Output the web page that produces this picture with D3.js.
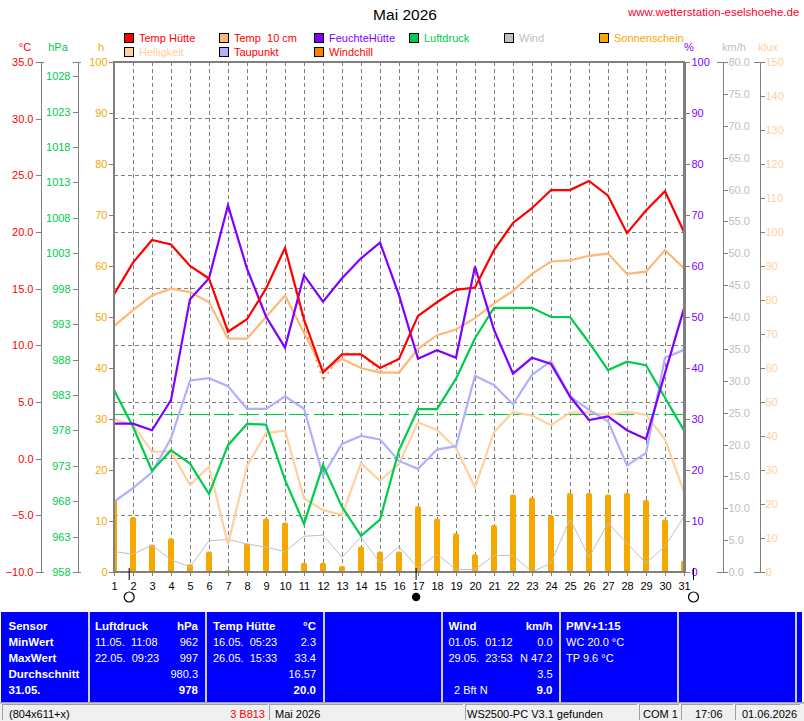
<!DOCTYPE html>
<html>
<head>
<meta charset="utf-8">
<title>Mai 2026</title>
<script src="https://cdn.jsdelivr.net/npm/d3@7"></script>
<style>
  html, body { margin: 0; padding: 0; background: #fff; overflow: hidden; }
  svg { display: block; }
  text { font-family: "Liberation Sans", Arial, sans-serif; font-size: 11px; white-space: pre; }
  .axis path, .axis line { stroke: #808080; shape-rendering: crispEdges; }
  .axis text { font-size: 11px; }
  .series { fill: none; stroke-linejoin: miter; }
</style>
</head>
<body>
<div id="chart"></div>
<script>
// daily values, May 2026
var days = d3.range(1, 32);
var tempHuette = [14.5,17.3,19.3,18.9,17.0,15.9,11.2,12.3,15.0,18.6,12.3,7.6,9.2,9.2,8.0,8.8,12.6,13.8,14.9,15.1,18.4,20.8,22.1,23.7,23.7,24.5,23.2,19.9,21.9,23.6,20.0];
var temp10cm = [11.7,13.1,14.4,15.0,14.7,13.8,10.6,10.6,12.5,14.4,11.1,7.8,8.8,8.0,7.6,7.6,9.7,10.9,11.4,12.4,13.7,14.8,16.3,17.4,17.5,17.9,18.1,16.3,16.5,18.4,16.8];
var taupunkt = [-3.8,-2.6,-1.2,1.8,6.9,7.1,6.4,4.4,4.4,5.5,4.4,-1.5,1.3,2.0,1.7,-0.2,-0.9,0.8,1.1,7.3,6.5,4.8,7.4,8.6,5.5,4.3,3.3,-0.6,0.5,8.9,9.6];
var windchill = [14.5,17.3,19.3,18.9,17.0,15.9,11.2,12.3,15.0,18.6,11.8,6.9,9.3,9.3,7.6,8.8,12.6,13.8,14.9,15.1,18.4,20.8,22.1,23.7,23.7,24.5,23.2,19.9,21.9,23.6,20.0];
var feuchte = [29.1,29.1,27.8,33.7,53.5,57.6,71.9,59.5,50.1,44.0,58.2,53.0,57.6,61.5,64.6,54.3,41.8,43.5,42.0,59.9,47.5,38.9,42.0,40.8,34.4,29.8,30.5,27.8,26.1,39.0,51.7];
var luftdruck = [983.7,978.5,972.3,975.2,973.3,969.0,975.9,978.9,978.8,971.0,964.8,973.1,967.2,963.1,965.4,975.2,981.0,981.0,985.3,991.0,995.3,995.3,995.3,994.0,994.0,990.4,986.5,987.7,987.2,982.6,978.0];
var luftdruckMittel = 980.3;
var wind = [3.2,2.8,4.2,1.9,0.8,4.9,5.1,4.4,3.9,3.2,5.6,5.8,2.3,5.5,1.4,4.0,0.6,2.8,0.4,0.4,2.6,2.6,0.0,1.4,8.3,2.3,7.7,4.5,1.4,4.0,8.7];
var helligkeit = [44.9,43.2,35.4,35.4,25.6,31.0,8.2,31.2,40.8,41.6,21.7,18.2,16.8,32.0,26.8,31.8,44.0,41.8,36.4,24.9,41.1,47.1,46.0,43.2,46.9,46.9,46.2,47.1,46.2,39.0,23.6];
var sonne = [14.1,10.8,5.4,6.6,1.5,4.0,0.4,5.6,10.5,9.7,1.8,1.8,1.2,5.0,4.0,4.0,12.9,10.5,7.6,3.5,9.2,15.2,14.6,11.1,15.5,15.5,15.2,15.5,14.1,10.3,2.2];

var moonDays = [1.8, 16.9, 31.5];
var moonDark = [false, true, false];

var legendNames = ['Temp Hütte','Temp  10 cm','FeuchteHütte','Luftdruck','Wind','Sonnenschein','Helligkeit','Taupunkt','Windchill'];
var legendBox = ['#ff0000','#ffb878','#8000ff','#00cc4c','#c0c0c0','#f4a800','#ffd0a0','#b0b0ff','#ff8000'];
var legendText = ['#ff0000','#ff0000','#8000ff','#00cc4c','#c0c0c0','#f4a800','#ffd0a0','#ff0000','#ff0000'];

var tableLeft = [
  ['Sensor','MinWert','MaxWert','Durchschnitt','31.05.'],
  ['11.05.  11:08','22.05.  09:23'],
  ['16.05.  05:23','26.05.  15:33'],
  ['01.05.  01:12','29.05.  23:53'],
  ['WC 20.0 °C','TP 9.6 °C']
];
var tableRight = [
  ['962','997','980.3','978'],
  ['2.3','33.4','16.57','20.0'],
  ['0.0','N 47.2','3.5','9.0']
];
var tableHead = [['Luftdruck','hPa'],['Temp Hütte','°C'],['Wind','km/h'],['PMV+1:15','']];

var statusLabels = ['(804x611+x)','Mai 2026','WS2500-PC V3.1 gefunden','COM 1','17:06','01.06.2026'];

var width = 804, height = 721;
var plot = {left: 114, right: 684, top: 62, bottom: 572};

var svg = d3.select('#chart').append('svg')
    .attr('width', width)
    .attr('height', height);

svg.append('rect').attr('width', width).attr('height', height).attr('fill', '#fff');

// scales, all share the same pixel range
var x = d3.scaleLinear().domain([1, 31]).range([plot.left, plot.right]);
var yRange = [plot.bottom, plot.top];
var yTemp = d3.scaleLinear().domain([-10, 35]).range(yRange);
var yPress = d3.scaleLinear().domain([958, 1030]).range(yRange);
var yHours = d3.scaleLinear().domain([0, 100]).range(yRange);
var yHum = d3.scaleLinear().domain([0, 100]).range(yRange);
var yWind = d3.scaleLinear().domain([0, 80]).range(yRange);
var yLux = d3.scaleLinear().domain([0, 150]).range(yRange);

svg.append('defs').append('clipPath').attr('id', 'plotClip')
  .append('rect')
    .attr('x', plot.left).attr('y', plot.top)
    .attr('width', plot.right - plot.left).attr('height', plot.bottom - plot.top);

// grid
var tempTicks = d3.range(-10, 36, 5);
svg.append('g').selectAll('line')
  .data(tempTicks.slice(1, -1))
  .join('line')
    .attr('x1', plot.left).attr('x2', plot.right)
    .attr('y1', d => yTemp(d)).attr('y2', d => yTemp(d))
    .attr('stroke', '#808080').attr('stroke-dasharray', '4,3')
    .attr('shape-rendering', 'crispEdges');
svg.append('g').selectAll('line')
  .data(days.slice(1, -1))
  .join('line')
    .attr('x1', d => x(d)).attr('x2', d => x(d))
    .attr('y1', plot.top).attr('y2', plot.bottom)
    .attr('stroke', '#808080').attr('stroke-dasharray', '4,3')
    .attr('shape-rendering', 'crispEdges');

// sunshine bars
svg.append('g').attr('clip-path', 'url(#plotClip)').selectAll('rect')
  .data(sonne)
  .join('rect')
    .attr('x', (d, i) => x(days[i]) - 3)
    .attr('y', d => yHours(d))
    .attr('width', 6)
    .attr('height', d => plot.bottom - yHours(d) + 3)
    .attr('rx', 2)
    .attr('fill', '#f4a800');

// mean pressure
svg.append('line')
    .attr('x1', plot.left).attr('x2', plot.right)
    .attr('y1', yPress(luftdruckMittel)).attr('y2', yPress(luftdruckMittel))
    .attr('stroke', '#00cc4c').attr('stroke-dasharray', '20,5')
    .attr('shape-rendering', 'crispEdges');

function drawLine(values, scale, color, w, dash) {
  var line = d3.line().x((d, i) => x(days[i])).y(d => scale(d));
  svg.append('path')
      .datum(values)
      .attr('class', 'series')
      .attr('d', line)
      .attr('stroke', color)
      .attr('stroke-width', w)
      .attr('stroke-dasharray', dash || null);
}

drawLine(wind, yWind, '#c0c0c0', 1);
drawLine(helligkeit, yLux, '#ffd0a0', 2.2);
drawLine(taupunkt, yTemp, '#b0b0ff', 2.2);
drawLine(luftdruck, yPress, '#00cc4c', 2.2);
drawLine(windchill, yTemp, '#ff8000', 1.2, '2,4');
drawLine(temp10cm, yTemp, '#ffb878', 2.2);
drawLine(feuchte, yHum, '#8000ff', 2.2);
drawLine(tempHuette, yTemp, '#ff0000', 2.2);

// value axes
function styleAxis(g, color) {
  g.attr('class', 'axis');
  g.selectAll('text').attr('fill', color);
}

svg.append('g')
    .attr('transform', 'translate(40.5,0)')
    .call(d3.axisLeft(yTemp).tickValues(tempTicks).tickFormat(d3.format('.1f')).tickSize(5).tickSizeOuter(0).tickPadding(2))
    .call(styleAxis, '#ff0000');
svg.append('g')
    .attr('transform', 'translate(77.5,0)')
    .call(d3.axisLeft(yPress).tickValues(d3.range(958, 1029, 5)).tickFormat(d3.format('d')).tickSize(5).tickSizeOuter(0).tickPadding(2))
    .call(styleAxis, '#00cc4c');
svg.append('g')
    .attr('transform', 'translate(113.5,0)')
    .call(d3.axisLeft(yHours).ticks(10).tickSize(5).tickSizeOuter(0).tickPadding(1))
    .call(styleAxis, '#f4a800');
svg.append('g')
    .attr('transform', 'translate(684.5,0)')
    .call(d3.axisRight(yHum).ticks(10).tickSize(5).tickSizeOuter(0).tickPadding(2))
    .call(styleAxis, '#8000ff');
svg.append('g')
    .attr('transform', 'translate(722.5,0)')
    .call(d3.axisRight(yWind).tickValues(d3.range(0, 81, 5)).tickFormat(d3.format('.1f')).tickSize(5).tickSizeOuter(0).tickPadding(1))
    .call(styleAxis, '#c0c0c0');
svg.append('g')
    .attr('transform', 'translate(759.5,0)')
    .call(d3.axisRight(yLux).tickValues(d3.range(0, 151, 10)).tickSize(5).tickSizeOuter(0).tickPadding(1))
    .call(styleAxis, '#ffd0a0');

// day axis
svg.append('g')
    .attr('transform', 'translate(0,' + plot.bottom + ')')
    .call(d3.axisBottom(x).tickValues(days).tickFormat(d3.format('d')).tickSize(4).tickSizeOuter(0).tickPadding(6))
    .call(styleAxis, '#000');

// heavy frame of the plot
var frame = [[plot.left, plot.bottom, plot.left, plot.top], [plot.left, plot.top, plot.right, plot.top], [plot.right, plot.top, plot.right, plot.bottom], [plot.left, plot.bottom, plot.right, plot.bottom]];
svg.append('g').selectAll('line')
  .data(frame)
  .join('line')
    .attr('x1', d => d[0]).attr('y1', d => d[1])
    .attr('x2', d => d[2]).attr('y2', d => d[3])
    .attr('stroke', '#808080').attr('stroke-width', 2)
    .attr('stroke-linecap', 'square')
    .attr('shape-rendering', 'crispEdges');

// end ticks that cross the side axes
[[36, 44], [73, 81], [717, 727], [754, 764]].forEach(function(t) {
  [plot.top, plot.bottom].forEach(function(y) {
    svg.append('line').attr('x1', t[0]).attr('x2', t[1]).attr('y1', y + 0.5).attr('y2', y + 0.5)
       .attr('stroke', '#808080').attr('shape-rendering', 'crispEdges');
  });
});

// moon phases, the new moon is drawn smaller
var moon = svg.append('g');
moonDays.forEach(function(d, i) {
  moon.append('line')
      .attr('x1', x(d)).attr('x2', x(d)).attr('y1', 568).attr('y2', 580)
      .attr('stroke', '#000').attr('stroke-width', 1);
  moon.append('circle')
      .attr('cx', x(d)).attr('cy', 597).attr('r', moonDark[i] ? 3.6 : 5)
      .attr('fill', moonDark[i] ? '#000' : '#fff')
      .attr('stroke', '#000').attr('stroke-width', 1.2);
});

// title, unit labels
svg.append('text').attr('x', 405).attr('y', 20).attr('text-anchor', 'middle')
    .style('font-size', '15.5px').text('Mai 2026');
svg.append('text').attr('x', 628).attr('y', 16).attr('fill', '#ff0030')
    .style('font-size', '11.5px')
    .text('www.wetterstation-eselshoehe.de');

var unitNames = ['°C','hPa','h','%','km/h','klux'];
var unitX = [25, 58, 101, 689, 734, 768];
var unitColor = ['#ff0000','#00cc4c','#f4a800','#8000ff','#c0c0c0','#ffd0a0'];
svg.append('g').selectAll('text')
  .data(unitNames)
  .join('text')
    .attr('x', (d, i) => unitX[i]).attr('y', 51)
    .attr('text-anchor', 'middle')
    .attr('fill', (d, i) => unitColor[i])
    .text(d => d);

// legend, six entries on top, three on the second row
var legendX = [124, 219, 314, 409, 504, 599, 124, 219, 314];
var legendY = [33, 33, 33, 33, 33, 33, 47, 47, 47];
var legend = svg.append('g').selectAll('g')
  .data(legendNames)
  .join('g')
    .attr('transform', (d, i) => 'translate(' + legendX[i] + ',' + legendY[i] + ')');
legend.append('rect')
    .attr('x', 0.5).attr('y', 0.5).attr('width', 9).attr('height', 9)
    .attr('fill', (d, i) => legendBox[i]).attr('stroke', '#000')
    .attr('shape-rendering', 'crispEdges');
legend.append('text')
    .attr('x', 15).attr('y', 9)
    .attr('fill', (d, i) => legendText[i])
    .text(d => d);

// blue table
svg.append('rect').attr('x', 1).attr('y', 612).attr('width', 801).attr('height', 90).attr('fill', '#0000ff');
var sepX = [88, 205, 323, 441, 559, 677, 795];
svg.append('g').selectAll('rect')
  .data(sepX)
  .join('rect')
    .attr('x', d => d).attr('y', 612).attr('width', 2).attr('height', 90)
    .attr('fill', '#d0d0d0');
svg.append('rect').attr('x', 0).attr('y', 702).attr('width', width).attr('height', 19).attr('fill', '#f0f0f0');
svg.append('rect').attr('x', 0).attr('y', 702).attr('width', width).attr('height', 1.5).attr('fill', '#a0a0a0');

var rowY = [630, 646, 662, 678, 694];
var table = svg.append('g').attr('fill', '#fff');

function cell(xp, row, str, bold, anchor) {
  table.append('text')
      .attr('x', xp).attr('y', rowY[row])
      .attr('text-anchor', anchor || 'start')
      .style('font-weight', bold ? 'bold' : 'normal')
      .style('font-size', bold ? '11.5px' : '11px')
      .text(str);
}

tableLeft[0].forEach((s, i) => cell(8.5, i, s, true));

var headLeft = [95, 213, 448.5, 566];
var headRight = [198, 316, 552.5];
tableHead.forEach(function(h, i) {
  cell(headLeft[i], 0, h[0], true);
  if (h[1]) cell(headRight[i], 0, h[1], true, 'end');
});
[0, 1, 2].forEach(function(c) {
  tableLeft[c + 1].forEach((s, i) => cell(headLeft[c], i + 1, s, false));
  tableRight[c].forEach((s, i) => cell(headRight[c], i + 1, s, i === 3, 'end'));
});
tableLeft[4].forEach((s, i) => cell(566, i + 1, s, false));
cell(454, 4, '2 Bft N', false);

// status bar
var statusBoxes = [[2, 266], [269, 194], [465, 172], [639, 40], [681, 52], [735, 65]];
svg.append('g').selectAll('path')
  .data(statusBoxes)
  .join('path')
    .attr('d', d => 'M' + (d[0] + 0.5) + ',720V704.5H' + (d[0] + d[1]))
    .attr('fill', 'none').attr('stroke', '#a0a0a0')
    .attr('shape-rendering', 'crispEdges');
var statusX = [9, 275, 467, 643, 695, 742];
svg.append('g').selectAll('text')
  .data(statusLabels)
  .join('text')
    .attr('x', (d, i) => statusX[i]).attr('y', 718)
    .attr('fill', '#000')
    .text(d => d);
svg.append('text').attr('x', 265).attr('y', 718).attr('text-anchor', 'end')
    .attr('fill', '#ff0000').text('3 B813');
</script>
</body>
</html>
